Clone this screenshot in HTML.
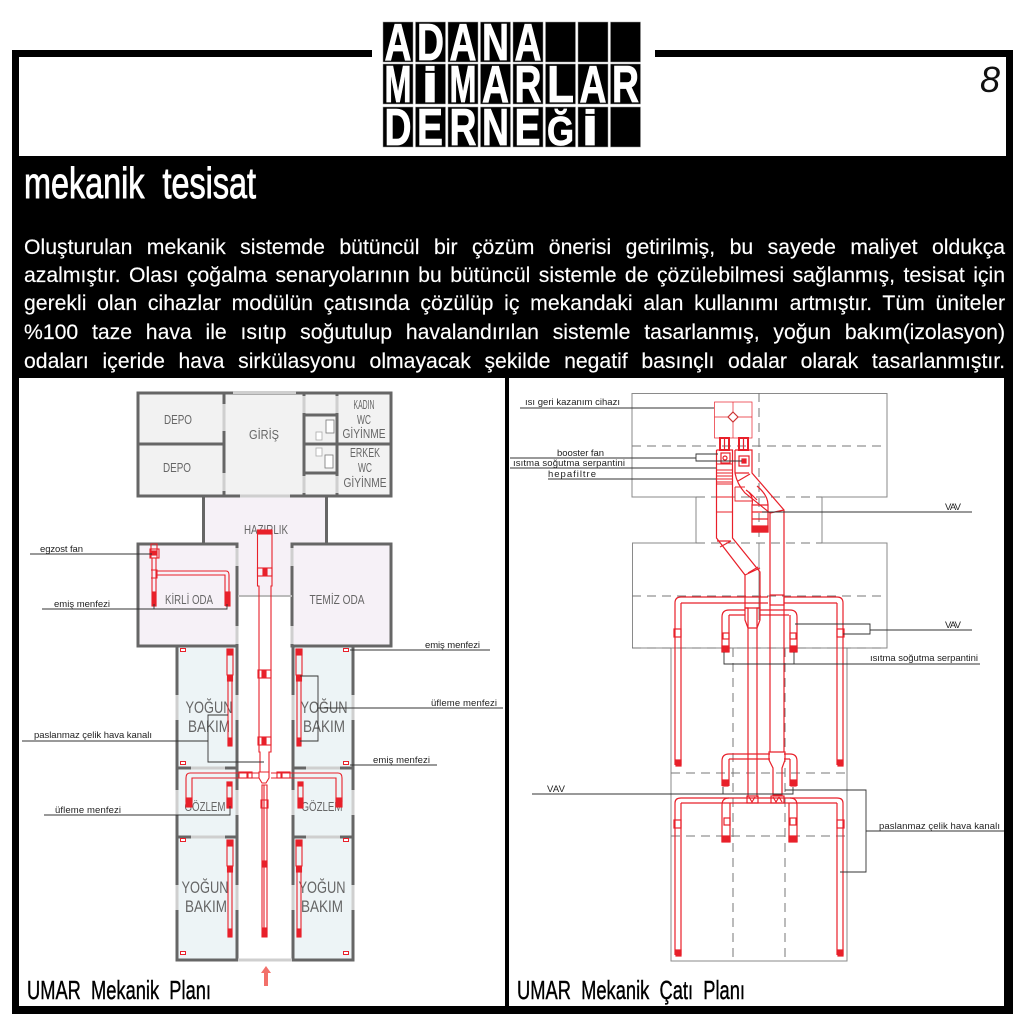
<!DOCTYPE html>
<html lang="tr">
<head>
<meta charset="utf-8">
<title>mekanik tesisat</title>
<style>
html,body{margin:0;padding:0;background:#fff}
#p{position:relative;width:1024px;height:1024px;overflow:hidden;background:#fff;font-family:"Liberation Sans",sans-serif}
svg{position:absolute;left:0;top:0}
.l{position:absolute;left:24px;width:981px;color:#fff;font-size:21.2px;line-height:26px;text-align:justify;text-align-last:justify;-webkit-text-stroke:.15px #fff}
</style>
</head>
<body>
<div id="p">
<svg width="1024" height="1024" viewBox="0 0 1024 1024" xmlns="http://www.w3.org/2000/svg" font-family="'Liberation Sans',sans-serif">
<defs>
<g id="rd" fill="none" stroke="#e8202a" stroke-width="1.1">
<path d="M0 0h6v26h-1v70h-4v-70h-1z"/>
<rect x="0" y="0" width="6" height="6" fill="#e8202a"/>
<rect x=".5" y="26" width="5" height="6" fill="#e8202a"/>
<rect x="1" y="89" width="4" height="8" fill="#e8202a"/>
</g>
<rect id="vent" x="-2.5" y="-1.5" width="5" height="3" fill="#fff" stroke="#e8202a"/>
</defs>

<!-- frame -->
<rect x="12" y="50" width="1001" height="964" fill="#000"/>
<rect x="19" y="57" width="987" height="99" fill="#fff"/>
<rect x="19" y="378" width="486" height="628" fill="#fff"/>
<rect x="509" y="378" width="495" height="628" fill="#fff"/>
<rect x="372" y="10" width="283" height="146" fill="#fff"/>

<!-- logo -->
<g fill="#000" stroke="#999" stroke-width=".5">
<rect x="383" y="22" width="30" height="40"/><rect x="415.500" y="22" width="30" height="40"/><rect x="448" y="22" width="30" height="40"/><rect x="480.500" y="22" width="30" height="40"/><rect x="513" y="22" width="30" height="40"/><rect x="545.500" y="22" width="30" height="40"/><rect x="578" y="22" width="30" height="40"/><rect x="610.500" y="22" width="30" height="40"/>
<rect x="383" y="64" width="30" height="40"/><rect x="415.500" y="64" width="30" height="40"/><rect x="448" y="64" width="30" height="40"/><rect x="480.500" y="64" width="30" height="40"/><rect x="513" y="64" width="30" height="40"/><rect x="545.500" y="64" width="30" height="40"/><rect x="578" y="64" width="30" height="40"/><rect x="610.500" y="64" width="30" height="40"/>
<rect x="383" y="107" width="30" height="40"/><rect x="415.500" y="107" width="30" height="40"/><rect x="448" y="107" width="30" height="40"/><rect x="480.500" y="107" width="30" height="40"/><rect x="513" y="107" width="30" height="40"/><rect x="545.500" y="107" width="30" height="40"/><rect x="578" y="107" width="30" height="40"/><rect x="610.500" y="107" width="30" height="40"/>
</g>
<g fill="#fff" stroke="#fff" stroke-width=".8" font-size="52" font-weight="700">
<text x="384.500" y="60" textLength="27" lengthAdjust="spacingAndGlyphs">A</text>
<text x="417" y="60" textLength="27" lengthAdjust="spacingAndGlyphs">D</text>
<text x="449.500" y="60" textLength="27" lengthAdjust="spacingAndGlyphs">A</text>
<text x="482" y="60" textLength="27" lengthAdjust="spacingAndGlyphs">N</text>
<text x="514.500" y="60" textLength="27" lengthAdjust="spacingAndGlyphs">A</text>
<text x="384.500" y="102" textLength="27" lengthAdjust="spacingAndGlyphs">M</text>
<text x="449.500" y="102" textLength="27" lengthAdjust="spacingAndGlyphs">M</text>
<text x="482" y="102" textLength="27" lengthAdjust="spacingAndGlyphs">A</text>
<text x="514.500" y="102" textLength="27" lengthAdjust="spacingAndGlyphs">R</text>
<text x="547" y="102" textLength="27" lengthAdjust="spacingAndGlyphs">L</text>
<text x="579.500" y="102" textLength="27" lengthAdjust="spacingAndGlyphs">A</text>
<text x="612" y="102" textLength="27" lengthAdjust="spacingAndGlyphs">R</text>
<text x="384.500" y="145" textLength="27" lengthAdjust="spacingAndGlyphs">D</text>
<text x="417" y="145" textLength="26" lengthAdjust="spacingAndGlyphs">E</text>
<text x="449.500" y="145" textLength="27" lengthAdjust="spacingAndGlyphs">R</text>
<text x="482" y="145" textLength="27" lengthAdjust="spacingAndGlyphs">N</text>
<text x="514.500" y="145" textLength="26" lengthAdjust="spacingAndGlyphs">E</text>
<text x="547" y="145" font-size="41" textLength="27" lengthAdjust="spacingAndGlyphs">Ğ</text>
<text x="582" y="145" font-size="42" textLength="16" lengthAdjust="spacingAndGlyphs">İ</text>
<text x="422" y="102" font-size="42" textLength="16" lengthAdjust="spacingAndGlyphs">İ</text>
</g>
<text x="980" y="92" font-size="36" font-style="italic" fill="#111">8</text>

<!-- heading -->
<text x="24" y="198" font-size="44" fill="#fff" textLength="232" lengthAdjust="spacingAndGlyphs" stroke="#fff" stroke-width=".9">mekanik&#160;&#160;tesisat</text>

<!-- LEFT PLAN -->
<g>
<rect x="138" y="393" width="253" height="103" fill="#f2f2f2"/>
<rect x="204" y="496" width="122" height="48" fill="#f6f1f7"/>
<rect x="138" y="544" width="253" height="102" fill="#f6f1f7"/>
<rect x="238" y="596" width="54" height="50" fill="#fff"/>
<g fill="#edf4f6">
<rect x="177" y="646" width="60" height="314"/>
<rect x="293" y="646" width="60" height="314"/>
</g>
<g stroke="#666" stroke-width="3" fill="none">
<rect x="138" y="393" width="253" height="103"/>
<path d="M224 393v103M304 393v103M337 393v103M138 444h86M304 444h87M304 415h33M304 473h33"/>
<path d="M203.500 496v48M326.500 496v48"/>
<rect x="138" y="544" width="99" height="102"/>
<rect x="292" y="544" width="99" height="102"/>
<rect x="177" y="646" width="60" height="314"/>
<rect x="293" y="646" width="60" height="314"/>
<path d="M177 768h60M293 768h60M177 837h60M293 837h60"/>
</g>
<g fill="#cfcfcf">
<rect x="233" y="391" width="63" height="3"/>
<rect x="222.500" y="404" width="3" height="27"/><rect x="222.500" y="473" width="3" height="18"/>
<rect x="302.500" y="396" width="3" height="17"/><rect x="302.500" y="476" width="3" height="17"/>
<rect x="335.500" y="396" width="3" height="17"/><rect x="335.500" y="476" width="3" height="17"/>
<rect x="240" y="494.500" width="50" height="3"/>
<rect x="235.500" y="548" width="3" height="18"/><rect x="290.500" y="548" width="3" height="18"/>
<rect x="235.500" y="626" width="3" height="18"/><rect x="290.500" y="626" width="3" height="18"/>
<rect x="238" y="595" width="54" height="2" fill="#bbb"/>
<rect x="175.500" y="695" width="3" height="25"/><rect x="235.500" y="695" width="3" height="25"/>
<rect x="291.500" y="695" width="3" height="25"/><rect x="351.500" y="695" width="3" height="25"/>
<rect x="191" y="766.500" width="34" height="3"/><rect x="306" y="766.500" width="34" height="3"/>
<rect x="175.500" y="790" width="3" height="25"/><rect x="235.500" y="790" width="3" height="25"/>
<rect x="291.500" y="790" width="3" height="25"/><rect x="351.500" y="790" width="3" height="25"/>
<rect x="191" y="835.500" width="34" height="3"/><rect x="306" y="835.500" width="34" height="3"/>
<rect x="175.500" y="885" width="3" height="25"/><rect x="235.500" y="885" width="3" height="25"/>
<rect x="291.500" y="885" width="3" height="25"/><rect x="351.500" y="885" width="3" height="25"/>
<rect x="238" y="958.500" width="54" height="3"/>
</g>
<g fill="#fff" stroke="#777" stroke-width=".8">
<rect x="326" y="420" width="8" height="13"/><rect x="325" y="455" width="8" height="13"/>
<rect x="316" y="432" width="6" height="8" stroke="#aaa"/><rect x="316" y="448" width="6" height="8" stroke="#aaa"/>
</g>
<g fill="#666" font-size="12.500" text-anchor="middle">
<text x="178" y="424" textLength="28" lengthAdjust="spacingAndGlyphs">DEPO</text>
<text x="177" y="472" textLength="28" lengthAdjust="spacingAndGlyphs">DEPO</text>
<text x="264" y="439" textLength="30" lengthAdjust="spacingAndGlyphs">GİRİŞ</text>
<text x="364" y="409" textLength="21" lengthAdjust="spacingAndGlyphs">KADIN</text><text x="364" y="424" textLength="14" lengthAdjust="spacingAndGlyphs">WC</text><text x="364" y="438" textLength="43" lengthAdjust="spacingAndGlyphs">GİYİNME</text>
<text x="365" y="457" textLength="30" lengthAdjust="spacingAndGlyphs">ERKEK</text><text x="365" y="472" textLength="14" lengthAdjust="spacingAndGlyphs">WC</text><text x="365" y="487" textLength="43" lengthAdjust="spacingAndGlyphs">GİYİNME</text>
<text x="266" y="534" textLength="44" lengthAdjust="spacingAndGlyphs">HAZIRLIK</text>
<text x="189" y="604" textLength="48" lengthAdjust="spacingAndGlyphs">KİRLİ ODA</text>
<text x="337" y="604" textLength="55" lengthAdjust="spacingAndGlyphs">TEMİZ ODA</text>
<text x="205" y="811" textLength="41" lengthAdjust="spacingAndGlyphs">GÖZLEM</text>
<text x="322" y="811" textLength="41" lengthAdjust="spacingAndGlyphs">GÖZLEM</text>
<g font-size="17">
<text x="209" y="713" textLength="47" lengthAdjust="spacingAndGlyphs">YOĞUN</text><text x="209" y="732" textLength="42" lengthAdjust="spacingAndGlyphs">BAKIM</text>
<text x="324" y="713" textLength="47" lengthAdjust="spacingAndGlyphs">YOĞUN</text><text x="324" y="732" textLength="42" lengthAdjust="spacingAndGlyphs">BAKIM</text>
<text x="205" y="893" textLength="47" lengthAdjust="spacingAndGlyphs">YOĞUN</text><text x="206" y="912" textLength="42" lengthAdjust="spacingAndGlyphs">BAKIM</text>
<text x="322" y="893" textLength="47" lengthAdjust="spacingAndGlyphs">YOĞUN</text><text x="322" y="912" textLength="42" lengthAdjust="spacingAndGlyphs">BAKIM</text>
</g>
</g>
<!-- red ducts left -->
<use href="#vent" x="183" y="650"/><use href="#vent" x="183" y="763"/><use href="#vent" x="346" y="650"/><use href="#vent" x="346" y="763"/>
<use href="#vent" x="183" y="840"/><use href="#vent" x="183" y="953"/><use href="#vent" x="346" y="840"/><use href="#vent" x="346" y="953"/>
<use href="#rd" x="227" y="649"/><use href="#rd" x="296" y="649"/><use href="#rd" x="227" y="840"/><use href="#rd" x="296" y="840"/>
<g fill="none" stroke="#e8202a" stroke-width="1.1">
<path d="M257.500 530h14.500v56h-1v166h-2v20h-9v-20h-1V586h-1.500z"/>
<rect x="257.500" y="530" width="14.500" height="4" fill="#e8202a"/>
<rect x="257.500" y="568" width="14.500" height="8"/><rect x="263" y="569" width="4" height="6" fill="#e8202a"/>
<rect x="258" y="670" width="13" height="8"/><rect x="262" y="671" width="4" height="6" fill="#e8202a"/>
<rect x="258" y="737" width="13" height="8"/><rect x="262" y="738" width="4" height="6" fill="#e8202a"/>
<path d="M259 772h10v6l-3 5v0h-4l-3-5z"/>
<path d="M262 785h5v152h-5z"/>
<path d="M264 785v152"/>
<rect x="261" y="800" width="7" height="8"/>
<rect x="262" y="861" width="5" height="6" fill="#e8202a"/><rect x="263" y="928" width="4" height="8" fill="#e8202a"/>
<!-- cross branches -->
<path d="M259 773H190q-4 0-4 5v24M259 778H192v24M271 773h67q4 0 4 5v24M271 778h65v24"/>
<rect x="186" y="798" width="6" height="9" fill="#e8202a"/><rect x="336" y="798" width="6" height="9" fill="#e8202a"/>
<rect x="227" y="782" width="5" height="26"/><rect x="227" y="798" width="5" height="9" fill="#e8202a"/><rect x="227" y="782" width="5" height="4" fill="#e8202a"/>
<rect x="298" y="782" width="5" height="26"/><rect x="298" y="798" width="5" height="9" fill="#e8202a"/><rect x="298" y="782" width="5" height="4" fill="#e8202a"/>
<rect x="239" y="772" width="8" height="6"/><rect x="282" y="772" width="8" height="6"/>
<rect x="248" y="772" width="4" height="6"/><rect x="277" y="772" width="4" height="6"/>
<!-- kirli -->
<path d="M151 544h6v14h-6z"/>
<rect x="150" y="549" width="9" height="9"/><rect x="152" y="551" width="4" height="4" fill="#e8202a"/>
<path d="M152 558v48h4v-48zM157 571h69q3 0 3 4v31M157 575h68v31"/>
<path d="M151 570h6v8h-6"/>
<rect x="153" y="592" width="3" height="14" fill="#e8202a"/><rect x="226" y="592" width="4" height="14" fill="#e8202a"/>
</g>
<polygon points="266,966 271,973 268,973 268,986 264,986 264,973 261,973" fill="#f2706a"/>
<!-- leaders left -->
<g stroke="#333" stroke-width=".9" fill="none">
<path d="M30 554H152"/>
<path d="M42 609H227V604M154 609V604"/>
<path d="M350 650H490"/>
<path d="M318 708H503M300 676H318V741H300"/>
<path d="M22 741H208M228 715H208V762H264"/>
<path d="M350 765H437"/>
<path d="M44 815H230V806"/>
</g>
<g fill="#222" font-size="9.5">
<text x="40" y="552" textLength="43">egzost fan</text>
<text x="54" y="607" textLength="56">emiş menfezi</text>
<text x="425" y="648" textLength="55">emiş menfezi</text>
<text x="431" y="706" textLength="66">üfleme menfezi</text>
<text x="34" y="738" textLength="118">paslanmaz çelik hava kanalı</text>
<text x="373" y="763" textLength="57">emiş menfezi</text>
<text x="55" y="813" textLength="66">üfleme menfezi</text>
</g>
</g>

<!-- RIGHT PLAN -->
<g>
<g fill="none" stroke="#8a8a8a" stroke-width="1">
<path d="M632 497V393.500H887V497H822V543H887V648H847V961H671V648H632.500V543H696V497Z"/>
<path d="M671 648H847"/>
</g>
<g fill="none" stroke="#777" stroke-width="1" stroke-dasharray="9 6">
<path d="M632 446H887M696 497H822M696 543H822M632 596H887M632 648H887M671 773H847M671 836H847"/>
<path d="M759 393V620M733 648V961M785 648V961"/>
</g>
<path d="M759 543V620" stroke="#888" fill="none"/>
<g fill="none" stroke="#e8202a" stroke-width="1.2">
<rect x="714.500" y="402" width="37.500" height="36" stroke-width=".7"/>
<path d="M733 402V438M714.500 417H728M738 417H752" stroke-width=".7"/>
<path d="M733 412L738 417L733 422L728 417Z" fill="#fff" stroke="#c33"/>
<rect x="720" y="438" width="9" height="12" stroke-width="2"/><rect x="739" y="438" width="9" height="12" stroke-width="2"/>
<path d="M724.500 438V450M743.500 438V450"/>
<!-- duct 1 -->
<path d="M716.500 450H732.500V538L760 572V608H757V797M716.500 450V538L745 575V608H748V797"/>
<rect x="721" y="453" width="9" height="10"/><circle cx="725" cy="458" r="2"/>
<path d="M717 464h15M717 470h15M717 473h15M717 476h15M717 479h15M717 482h15M717 484h15M717 497h15M717 512h15" stroke-width="1"/>
<path d="M717 541L731 541M720 547L731 541M745 575L760 568M748 573L758 567"/>
<!-- duct 2 -->
<path d="M735 450H752V473L784 510V752M735 450V473Q737 484 745 493L770 513V752"/>
<rect x="739" y="456" width="10" height="10"/><rect x="742" y="459" width="4" height="4" fill="#e8202a"/>
<path d="M735 473L749 473M738 481L750 474M770 513L784 510"/>
<!-- vav branch -->
<path d="M752 505H768V532H752ZM752 505Q754 495 746 490M768 505Q768 495 757 486M752 512H768M752 519H768M749 492L757 500"/>
<rect x="752" y="526" width="16" height="6" fill="#e8202a"/>
<path d="M735 487h10M735 487v14h17" stroke-width=".9"/>
<!-- upper branches -->
<path d="M681 597H768M681 603H768M784 597H837M784 603H837"/>
<path d="M675 765V603q0-6 6-6M681 765V603M843 765V603q0-6-6-6M837 765V603"/>
<rect x="674" y="629" width="7" height="8"/><rect x="837" y="629" width="7" height="8"/>
<rect x="676" y="760" width="5" height="6" fill="#e8202a"/><rect x="838" y="760" width="5" height="6" fill="#e8202a"/>
<rect x="770" y="595" width="14" height="10"/>
<path d="M745 608H760V620L757 628H748L745 620Z"/>
<path d="M729 610H745M729 615H745M760 610H790M760 615H789"/>
<path d="M722 652V617q0-7 7-7M729 652V615M797 652V617q0-7-7-7M790 652V615"/>
<rect x="722" y="646" width="7" height="6" fill="#e8202a"/><rect x="790" y="646" width="7" height="6" fill="#e8202a"/>
<rect x="723" y="633" width="6" height="6"/><rect x="790" y="633" width="6" height="6"/>
<!-- lower branches -->
<path d="M729 754H770M729 759H770M784 754H790M784 759H790"/>
<path d="M722 786V761q0-7 7-7M729 786V759M797 786V761q0-7-7-7M790 786V759"/>
<rect x="723" y="780" width="5" height="6" fill="#e8202a"/><rect x="791" y="780" width="5" height="6" fill="#e8202a"/>
<path d="M769 752H785V760L782 768V795H773V768L769 760Z"/>
<path d="M681 798H837M681 803H837"/>
<path d="M675 955V803q0-5 6-5M681 955V803M843 955V803q0-5-6-5M837 955V803"/>
<rect x="676" y="950" width="5" height="6" fill="#e8202a"/><rect x="838" y="950" width="5" height="6" fill="#e8202a"/>
<rect x="674" y="820" width="7" height="8"/><rect x="837" y="820" width="7" height="8"/>
<path d="M722 842V805q0-7 7-7M730 842V803M797 842V805q0-7-7-7M789 842V803"/>
<rect x="722" y="836" width="8" height="6" fill="#e8202a"/><rect x="789" y="836" width="8" height="6" fill="#e8202a"/>
<rect x="724" y="818" width="6" height="7"/><rect x="790" y="818" width="6" height="7"/>
<rect x="747" y="796" width="11" height="7"/><rect x="771" y="796" width="13" height="7"/>
<path d="M749 797l3 5l3-5M773 797l3 5l3-5M779 797l3 5"/>
</g>
<g stroke="#333" stroke-width=".9" fill="none">
<path d="M520 408H714"/>
<path d="M510 458H696M718 454H696V461H742"/>
<path d="M510 468H716"/>
<path d="M548 479H716"/>
<path d="M762 512H972"/>
<path d="M795 624H870V634H843M870 630H972"/>
<path d="M724 652V664H980M794 652V664"/>
<path d="M532 794H793V787M723 794V787"/>
<path d="M785 790H866V872H840M866 831H1004"/>
</g>
<g fill="#222" font-size="9.5">
<text x="525" y="405" textLength="95">ısı geri kazanım cihazı</text>
<text x="557" y="456" textLength="47">booster fan</text>
<text x="513" y="466" textLength="112">ısıtma soğutma serpantini</text>
<text x="548" y="477" textLength="48">hepafiltre</text>
<text x="945" y="510" textLength="16">VAV</text>
<text x="945" y="628" textLength="16">VAV</text>
<text x="870" y="661" textLength="108">ısıtma soğutma serpantini</text>
<text x="547" y="792" textLength="18">VAV</text>
<text x="879" y="829" textLength="121">paslanmaz çelik hava kanalı</text>
</g>
</g>

<!-- panel titles -->
<text x="27" y="999" font-size="26" fill="#000" stroke="#000" stroke-width=".4" textLength="184" lengthAdjust="spacingAndGlyphs">UMAR&#160;&#160;Mekanik&#160;&#160;Planı</text>
<text x="517" y="999" font-size="26" fill="#000" stroke="#000" stroke-width=".4" textLength="228" lengthAdjust="spacingAndGlyphs">UMAR&#160;&#160;Mekanik&#160;&#160;Çatı&#160;&#160;Planı</text>
</svg>

<div class="l" style="top:235px">Oluşturulan mekanik sistemde bütüncül bir çözüm önerisi getirilmiş, bu sayede maliyet oldukça</div>
<div class="l" style="top:263px">azalmıştır. Olası çoğalma senaryolarının bu bütüncül sistemle de çözülebilmesi sağlanmış, tesisat için</div>
<div class="l" style="top:291px">gerekli olan cihazlar modülün çatısında çözülüp iç mekandaki alan kullanımı artmıştır. Tüm üniteler</div>
<div class="l" style="top:320px">%100 taze hava ile ısıtıp soğutulup havalandırılan sistemle tasarlanmış, yoğun bakım(izolasyon)</div>
<div class="l" style="top:349px">odaları içeride hava sirkülasyonu olmayacak şekilde negatif basınçlı odalar olarak tasarlanmıştır.</div>
</div>
</body>
</html>
